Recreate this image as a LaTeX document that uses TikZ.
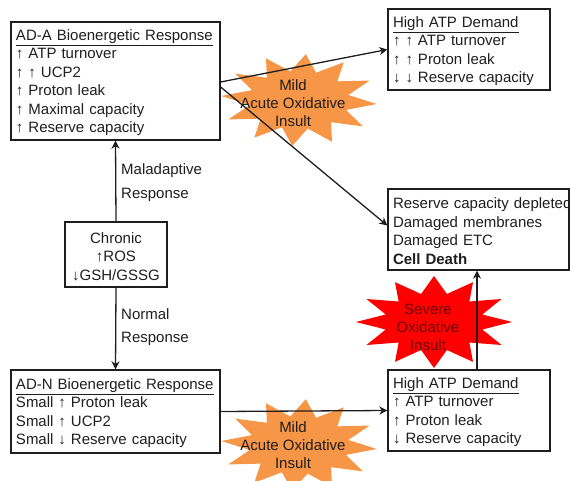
\documentclass[tikz,border=0pt]{standalone}
\usepackage{fontspec}
\setmainfont{Liberation Sans}
\usetikzlibrary{arrows.meta,calc}
\definecolor{burst}{RGB}{247,150,70}
\definecolor{redburst}{RGB}{255,0,0}
\definecolor{sevtext}{RGB}{110,0,0}
\definecolor{ink}{RGB}{30,30,30}
\tikzset{
  box/.style={draw=ink, line width=1.3pt, align=left, inner xsep=5pt, inner ysep=0pt,
    font=\fontsize{15}{18.5}\selectfont, text=ink},
  conn/.style={draw=ink, line width=1.3pt, -{Stealth[length=8pt,width=8pt,inset=2.5pt]}},
  lbl/.style={align=left, font=\fontsize{15}{23.5}\selectfont, text=ink, inner sep=0pt},
  bursttext/.style={align=center, font=\fontsize{15}{18}\selectfont, inner sep=0pt},
}
\newcommand{\starburst}[4]{% center x, y, fill colour, rotation offset
  \fill[#3] ($(#1,#2)+(#4:78 and 46)$)
    \foreach \k in {1,...,23}{
      -- ($(#1,#2)+({#4+\k*15}:{ifthenelse(mod(\k,2)==0,78,50)} and {ifthenelse(mod(\k,2)==0,46,29)})$)
    } -- cycle;}
\newcommand{\topgap}{\rule{0pt}{14.6pt}}
\begin{document}
\begin{tikzpicture}[x=1pt,y=-1pt]
\useasboundingbox (0,0) rectangle (570,481);
% starbursts
\starburst{299}{100}{burst}{5}
\starburst{299}{445}{burst}{5}
\starburst{434}{322}{redburst}{0}
% boxes
\node[box, text width=199pt, minimum height=118pt] (ada) at (115.5,81)
 {\topgap\underline{AD-A Bioenergetic Response}\\
  ↑ ATP turnover\\ ↑ ↑ UCP2\\ ↑ Proton leak\\ ↑ Maximal capacity\\ ↑ Reserve capacity};
\node[box, text width=152pt, minimum height=81pt] (hatop) at (469,49.5)
 {\topgap\underline{High ATP Demand}\\ ↑ ↑ ATP turnover\\ ↑ ↑ Proton leak\\ ↓ ↓ Reserve capacity};
\node[box, text width=171pt, minimum height=81pt] (res) at (478.5,229.5)
 {\topgap\mbox{Reserve capacity depleted}\\ Damaged membranes\\ Damaged ETC\\ \textbf{Cell Death}};
\node[box, align=center, text width=92pt, minimum height=65pt] (chron) at (116,254.5)
 {\topgap Chronic\\ ↑ROS\\ ↓GSH/GSSG};
\node[box, text width=199pt, minimum height=83pt] (adn) at (115.5,411.5)
 {\topgap\underline{AD-N Bioenergetic Response}\\
  Small ↑ Proton leak\\ Small ↑ UCP2\\ Small ↓ Reserve capacity};
\node[box, text width=152pt, minimum height=81pt] (habot) at (469,410.5)
 {\topgap\underline{High ATP Demand}\\ ↑ ATP turnover\\ ↑ Proton leak\\ ↓ Reserve capacity};
% connectors
\draw[conn] ($(ada.east)+(0,1)$) -- (hatop.west);
\draw[conn] ($(ada.east)+(0,6)$) -- ($(res.west)+(0,-4)$);
\draw[conn] (chron.north) -- (ada.south);
\draw[conn] (chron.south) -- (adn.north);
\draw[conn] (adn.east) -- (habot.west);
\draw[conn] ($(habot.north -| res.south)+(-1.5,0)$) -- ($(res.south)+(-1.5,0)$);
% labels
\node[lbl, anchor=west] (mal) at (121,182.5) {Maladaptive\\ Response};
\node[lbl, anchor=west] (norm) at (121,327) {Normal\\ Response};
\node[bursttext, text=ink] (mildtop) at (293,103) {Mild\\ Acute Oxidative\\ Insult};
\node[bursttext, text=ink] (mildbot) at (293,445) {Mild\\ Acute Oxidative\\ Insult};
\node[bursttext] (severe) at (428,327) {\color{sevtext}Severe\\ \color{sevtext}Oxidative\\ \color{sevtext}Insult};
\end{tikzpicture}
\end{document}
